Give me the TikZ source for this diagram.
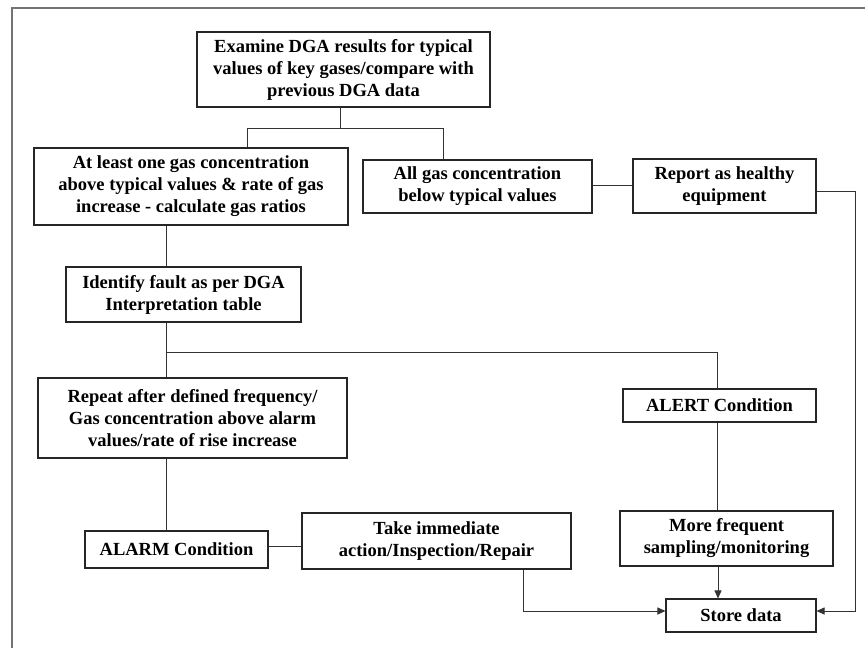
\documentclass[tikz,border=0pt]{standalone}
\usepackage{fontspec}
\setmainfont{Liberation Serif}
\usetikzlibrary{arrows.meta}
\begin{document}
\begin{tikzpicture}[x=1pt,y=-1pt,
  box/.style={draw=black!85, line width=1.1pt, fill=white, align=center, inner sep=0pt,
    font=\fontsize{18.5}{22}\selectfont\bfseries},
  conn/.style={draw=black!80, line width=1pt},
  arr/.style={conn, -{Triangle[length=8pt,width=7pt]}},
  frame/.style={draw=black!55, line width=1.6pt}]
\useasboundingbox (0,0) rectangle (865,648);
\fill[white] (0,0) rectangle (865,648);
\draw[frame] (12,648) -- (12,8) -- (865,8);

\node[box, minimum width=293pt, minimum height=75pt] (b1) at (343.5,69.5)
  {Examine DGA results for typical\\values of key gases/compare with\\previous DGA data};
\node[box, minimum width=314pt, minimum height=77pt] (b2) at (191,186.5)
  {At least one gas concentration\\above typical values \& rate of gas\\increase - calculate gas ratios};
\node[box, minimum width=229pt, minimum height=53pt] (b3) at (477.5,186.5)
  {All gas concentration\\below typical values};
\node[box, minimum width=183pt, minimum height=54pt] (b4) at (724.5,186)
  {Report as healthy\\equipment};
\node[box, minimum width=235pt, minimum height=55pt] (b5) at (183.5,294.5)
  {Identify fault as per DGA\\Interpretation table};
\node[box, minimum width=309pt, minimum height=80pt] (b6) at (192.5,418)
  {Repeat after defined frequency/\\Gas concentration above alarm\\values/rate of rise increase};
\node[box, minimum width=193pt, minimum height=33pt] (alert) at (719.5,405.5)
  {ALERT Condition};
\node[box, minimum width=183pt, minimum height=37pt] (alarm) at (176.5,549.5)
  {ALARM Condition};
\node[box, minimum width=269pt, minimum height=56pt] (take) at (436.5,541)
  {Take immediate\\action/Inspection/Repair};
\node[box, minimum width=213pt, minimum height=55pt] (more) at (726.5,538.5)
  {More frequent\\sampling/monitoring};
\node[box, minimum width=150pt, minimum height=33pt] (store) at (741,615.5)
  {Store data};

\coordinate (j1) at (340,128);
\coordinate (j2) at (247,128);
\coordinate (j3) at (443,128);
\coordinate (j4) at (166,352);
\coordinate (j5) at (717,352);
\coordinate (j6) at (855,191);
\coordinate (j7) at (855,611);
\coordinate (j8) at (523,611);
\coordinate (x1) at (718,0);

\draw[conn] (j1 |- b1.south) -- (j1);
\draw[conn] (j2 |- b2.north) -- (j2) -- (j3) -- (j3 |- b3.north);
\draw[conn] (b3.east |- 0,185) -- (b4.west |- 0,185);
\draw[arr] (b4.east |- j6) -- (j6) -- (j7) -- (store.east |- j7);
\draw[conn] (j4 |- b2.south) -- (j4 |- b5.north);
\draw[conn] (j4 |- b5.south) -- (j4 |- b6.north);
\draw[conn] (j4) -- (j5) -- (j5 |- alert.north);
\draw[conn] (j5 |- alert.south) -- (j5 |- more.north);
\draw[arr] (x1 |- more.south) -- (x1 |- store.north);
\draw[conn] (j4 |- b6.south) -- (j4 |- alarm.north);
\draw[conn] (alarm.east |- 0,546) -- (take.west |- 0,546);
\draw[arr] (j8 |- take.south) -- (j8) -- (store.west |- j8);
\end{tikzpicture}
\end{document}
